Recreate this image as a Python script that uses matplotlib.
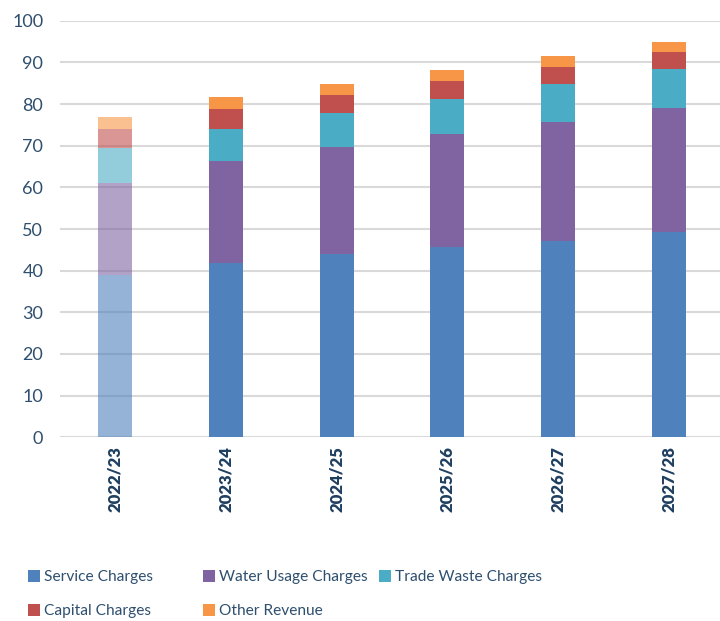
import matplotlib.pyplot as plt
from matplotlib.patches import Patch
import numpy as np

plt.rcParams['font.family'] = ['Lato', 'DejaVu Sans']

# datos
years = ['2022/23', '2023/24', '2024/25', '2025/26', '2026/27', '2027/28']
service = [38.9, 41.9, 44.0, 45.7, 47.2, 49.2]
water = [22.2, 24.4, 25.6, 27.1, 28.6, 29.9]
trade = [8.3, 7.8, 8.2, 8.5, 9.0, 9.2]
capital = [4.5, 4.8, 4.3, 4.3, 4.0, 4.2]
other = [2.9, 2.9, 2.7, 2.5, 2.7, 2.5]

series = [service, water, trade, capital, other]
names = ['Service Charges', 'Water Usage Charges', 'Trade Waste Charges',
         'Capital Charges', 'Other Revenue']
colores = ['#4f81bd', '#8064a2', '#4bacc6', '#c0504d', '#f79646']

fig = plt.figure(figsize=(7.2, 6.21), dpi=100)
ax = fig.add_axes([60 / 720, 1 - 437.3 / 621, 664 / 720, (437.3 - 20.7) / 621])

x = np.arange(len(years))
bottom = np.zeros(len(years))
for vals, c in zip(series, colores):
    vals = np.array(vals)
    # el primer año va mas claro
    alphas = [0.6] + [1.0] * (len(years) - 1)
    for i in range(len(years)):
        ax.bar(x[i], vals[i], bottom=bottom[i], width=0.31, color=c,
               alpha=alphas[i], zorder=3, linewidth=0)
    bottom += vals

ax.set_ylim(0, 100)
ax.set_xlim(-0.5, len(years) - 0.5)
ax.set_yticks(range(0, 101, 10))
ax.yaxis.grid(True, color='#d9d9d9', linewidth=1.5, zorder=0)
ax.set_axisbelow(True)
for s in ['top', 'right', 'left', 'bottom']:
    ax.spines[s].set_visible(False)
ax.tick_params(axis='both', length=0)
ax.tick_params(axis='y', labelsize=13, labelcolor='#2e4f6e', pad=12)
ax.set_xticks(x)
ax.set_xticklabels(years, rotation=90, fontsize=12, fontweight='heavy',
                   color='#1f3f60')
ax.tick_params(axis='x', pad=6)

# leyenda en tres columnas colocadas a mano
handles = [Patch(facecolor=c, edgecolor='none') for c in colores]
cols = [(0, 3), (1, 4), (2,)]
xs = [28, 203, 379]
for idx, xp in zip(cols, xs):
    leg = fig.legend([handles[i] for i in idx], [names[i] for i in idx],
                     loc='upper left', bbox_to_anchor=(xp / 720, 1 - 570 / 621),
                     frameon=False, fontsize=11.2, handlelength=0.8,
                     handleheight=0.8, handletextpad=0.2, labelspacing=1.25,
                     borderaxespad=0, borderpad=0)
    for t in leg.get_texts():
        t.set_color('#2e4f6e')

fig.savefig('out.png', dpi=100)
